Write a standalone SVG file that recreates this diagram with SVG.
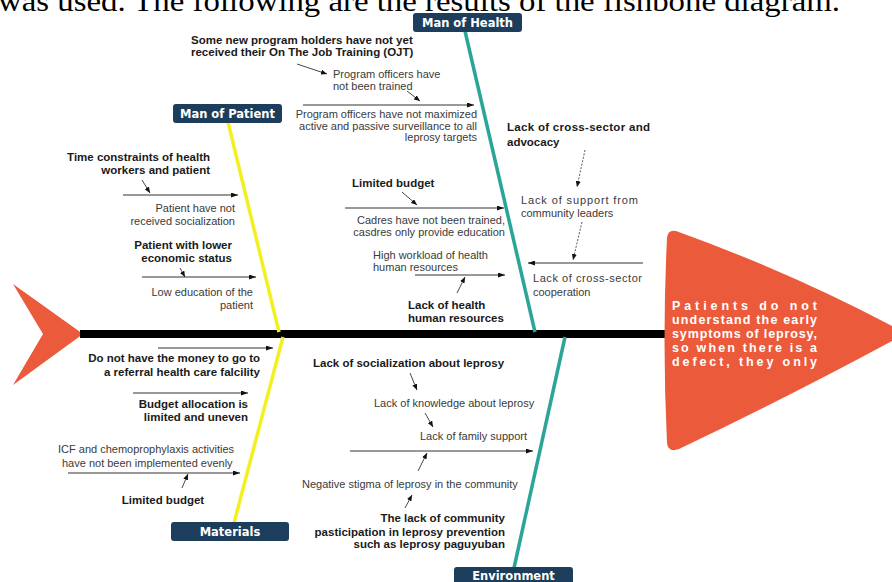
<svg xmlns="http://www.w3.org/2000/svg" width="892" height="582" viewBox="0 0 892 582">
<style>
.cap{font-family:"Liberation Serif",serif;font-size:30px;fill:#000}
.b{font-family:"Liberation Sans",Arial,sans-serif;font-size:11.5px;font-weight:bold;fill:#1a1a1a}
.r{font-family:"Liberation Sans",Arial,sans-serif;font-size:11px;fill:#3a3a3a}
.lbl{font-family:"DejaVu Sans",Verdana,sans-serif;font-size:11.5px;font-weight:bold;fill:#fff;text-anchor:middle}
.head{font-family:"Liberation Sans",Arial,sans-serif;font-size:12.5px;font-weight:bold;fill:#fff}
.box{fill:#1c3d5c}
.ar{stroke:#333;stroke-width:1;fill:none;marker-end:url(#ah)}
.as{stroke:#333;stroke-width:0.9;fill:none;marker-end:url(#ahs)}
.ad{stroke:#444;stroke-width:0.9;fill:none;stroke-dasharray:2,1.5;marker-end:url(#ahs)}
.e{text-anchor:end}
.m{text-anchor:middle}
</style>
<defs>
<marker id="ah" viewBox="0 0 7 5" refX="7" refY="2.5" markerWidth="7" markerHeight="5" markerUnits="userSpaceOnUse" orient="auto"><path d="M0,0 L7,2.5 L0,5 z" fill="#111"/></marker>
<marker id="ahs" viewBox="0 0 6 5" refX="6" refY="2.5" markerWidth="6" markerHeight="5" markerUnits="userSpaceOnUse" orient="auto"><path d="M0,0 L6,2.5 L0,5 z" fill="#111"/></marker>
</defs>
<rect width="892" height="582" fill="#fff"/>
<text class="cap" x="-2" y="11" textLength="842" lengthAdjust="spacingAndGlyphs">was used. The following are the results of the fishbone diagram.</text>

<g id="tail"><polygon points="13,284 83,334 13,385 43,334" fill="#ec5a3c"/></g>
<g id="spine"><line x1="80" y1="334" x2="672" y2="334" stroke="#000" stroke-width="8"/></g>

<g id="bones">
<line x1="465" y1="31" x2="535" y2="332" stroke="#2ba597" stroke-width="3.5"/>
<line x1="565" y1="337" x2="514" y2="568" stroke="#2ba597" stroke-width="3.5"/>
<line x1="228" y1="122" x2="279" y2="332" stroke="#f2ef22" stroke-width="3.5"/>
<line x1="283" y1="337" x2="234" y2="523" stroke="#f2ef22" stroke-width="3.5"/>
</g>

<g id="head">
<path d="M676,231 Q668,229 667,238 Q662,340 667,443 Q668,453 679,449 Q790,396 892,341 L892,326 Q790,272 676,231 Z" fill="#ec5a3c"/>
<text class="head" x="672" y="310" textLength="145" lengthAdjust="spacing">Patients do not</text>
<text class="head" x="672" y="324" textLength="145" lengthAdjust="spacing">understand the early</text>
<text class="head" x="672" y="338" textLength="145" lengthAdjust="spacing">symptoms of leprosy,</text>
<text class="head" x="672" y="352" textLength="145" lengthAdjust="spacing">so when there is a</text>
<text class="head" x="672" y="366" textLength="145" lengthAdjust="spacing">defect, they only</text>
</g>

<g id="man-of-health">
<rect class="box" x="413" y="13" width="109" height="19" rx="3"/>
<text class="lbl" x="467.5" y="27">Man of Health</text>
</g>
<g id="man-of-patient">
<rect class="box" x="173" y="104" width="109" height="19" rx="3"/>
<text class="lbl" x="227.5" y="118">Man of Patient</text>
</g>
<g id="materials">
<rect class="box" x="171" y="522" width="118" height="19" rx="3"/>
<text class="lbl" x="230" y="536">Materials</text>
</g>
<g id="environment">
<rect class="box" x="454" y="567" width="119" height="22" rx="3"/>
<text class="lbl" x="513.5" y="580">Environment</text>
</g>

<g id="health-causes">
<text class="b" x="191" y="44">Some new program holders have not yet</text>
<text class="b" x="191" y="56">received their On The Job Training (OJT)</text>
<text class="r" x="333" y="78">Program officers have</text>
<text class="r" x="333" y="90">not been trained</text>
<text class="r e" x="477" y="118">Program officers have not maximized</text>
<text class="r e" x="477" y="130">active and passive surveillance to all</text>
<text class="r e" x="477" y="141">leprosy targets</text>
<text class="b" x="507" y="131" textLength="143" lengthAdjust="spacing">Lack of cross-sector and</text>
<text class="b" x="507" y="146">advocacy</text>
<text class="r" x="521" y="204" textLength="117" lengthAdjust="spacing">Lack of support from</text>
<text class="r" x="521" y="217">community leaders</text>
<text class="r" x="533" y="282" textLength="109" lengthAdjust="spacing">Lack of cross-sector</text>
<text class="r" x="533" y="296">cooperation</text>
<text class="b" x="352" y="187">Limited budget</text>
<text class="r e" x="505" y="224">Cadres have not been trained,</text>
<text class="r e" x="505" y="236">casdres only provide education</text>
<text class="r" x="373" y="259">High workload of health</text>
<text class="r" x="373" y="271">human resources</text>
<text class="b" x="408" y="309">Lack of health</text>
<text class="b" x="408" y="322">human resources</text>
</g>

<g id="patient-causes">
<text class="b e" x="210" y="161">Time constraints of health</text>
<text class="b e" x="210" y="174">workers and patient</text>
<text class="r e" x="235" y="212">Patient have not</text>
<text class="r e" x="235" y="225">received socialization</text>
<text class="b e" x="232" y="249">Patient with lower</text>
<text class="b e" x="232" y="262">economic status</text>
<text class="r e" x="253" y="296">Low education of the</text>
<text class="r e" x="253" y="309">patient</text>
</g>

<g id="materials-causes">
<text class="b e" x="260" y="362">Do not have the money to go to</text>
<text class="b e" x="260" y="376">a referral health care falcility</text>
<text class="b e" x="248" y="408">Budget allocation is</text>
<text class="b e" x="248" y="421">limited and uneven</text>
<text class="r" x="58" y="453">ICF and chemoprophylaxis activities</text>
<text class="r" x="62" y="467">have not been implemented evenly</text>
<text class="b m" x="163" y="504">Limited budget</text>
</g>

<g id="environment-causes">
<text class="b" x="313" y="367">Lack of socialization about leprosy</text>
<text class="r" x="374" y="407">Lack of knowledge about leprosy</text>
<text class="r" x="420" y="440">Lack of family support</text>
<text class="r" x="302" y="488">Negative stigma of leprosy in the community</text>
<text class="b e" x="505" y="522">The lack of community</text>
<text class="b e" x="505" y="536">pasticipation in leprosy prevention</text>
<text class="b e" x="505" y="548">such as leprosy paguyuban</text>
</g>

<g id="connectors">
<line class="as" x1="297" y1="64" x2="327" y2="74"/>
<line class="as" x1="407" y1="91" x2="420" y2="101"/>
<line class="ar" x1="303" y1="105" x2="474" y2="105"/>
<line class="ad" x1="585" y1="150" x2="577" y2="187"/>
<line class="ad" x1="582" y1="222" x2="573" y2="260"/>
<line class="ar" x1="643" y1="263" x2="528" y2="263"/>
<line class="as" x1="402" y1="192" x2="417" y2="205"/>
<line class="ar" x1="345" y1="208" x2="504" y2="208"/>
<line class="ar" x1="415" y1="275" x2="505" y2="275"/>
<line class="as" x1="457" y1="293" x2="465" y2="277"/>
<line class="as" x1="142" y1="180" x2="150" y2="193"/>
<line class="ar" x1="123" y1="195" x2="238" y2="195"/>
<line class="as" x1="180" y1="268" x2="185" y2="277"/>
<line class="ar" x1="142" y1="277" x2="256" y2="277"/>
<line class="ar" x1="158" y1="348" x2="273" y2="348"/>
<line class="ar" x1="133" y1="393" x2="248" y2="393"/>
<line class="ar" x1="68" y1="473" x2="240" y2="473"/>
<line class="as" x1="182" y1="488" x2="188" y2="474"/>
<line class="as" x1="410" y1="373" x2="417" y2="390"/>
<line class="as" x1="425" y1="413" x2="433" y2="427"/>
<line class="ar" x1="350" y1="451" x2="533" y2="451"/>
<line class="as" x1="418" y1="471" x2="427" y2="453"/>
<line class="as" x1="405" y1="508" x2="412" y2="495"/>
</g>
</svg>
